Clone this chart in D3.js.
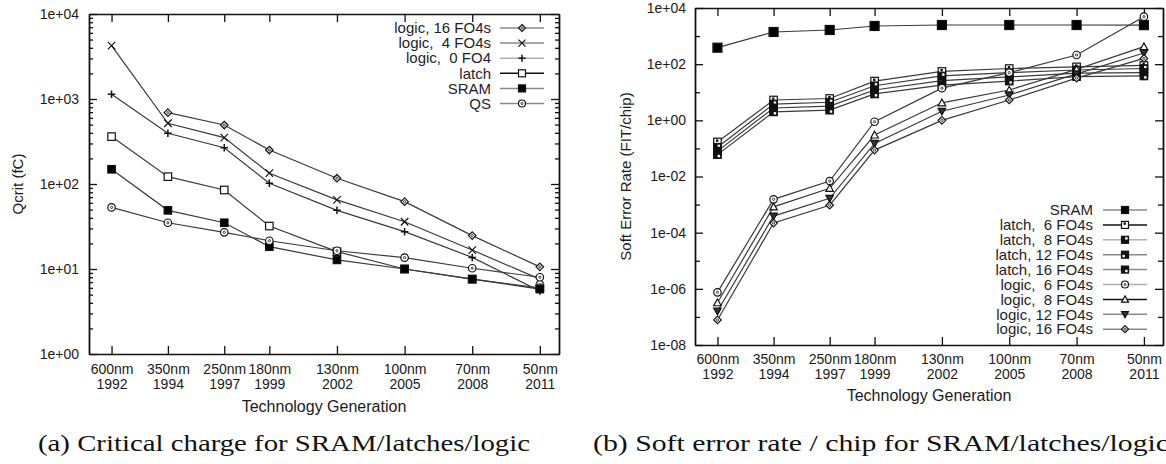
<!DOCTYPE html>
<html>
<head>
<meta charset="utf-8">
<script src="https://cdn.jsdelivr.net/npm/d3@7"></script>
<style>
  body { margin: 0; background: #fff; }
  svg { display: block; font-family: "Liberation Sans", Arial, sans-serif; }
  .axis text { font-size: 14px; fill: #1a1a1a; }
  .axis path, .axis line { stroke: #111; stroke-width: 1.3; }
  .legend text { font-size: 15px; fill: #1e1e2a; white-space: pre; }
</style>
</head>
<body>
<svg id="chart" width="1166" height="464"></svg>
<script>
// x positions of the technology generations (gnuplot puts 350nm half way)
var xYears = [1992, 1994.5, 1997, 1999, 2002, 2005, 2008, 2011];
var nodeLabels = ["600nm", "350nm", "250nm", "180nm", "130nm", "100nm", "70nm", "50nm"];
var yearLabels = ["1992", "1994", "1997", "1999", "2002", "2005", "2008", "2011"];

// (a) critical charge, fC
var qLogic16 = [null, 690, 494, 251, 117, 62, 24.7, 10.6];
var qLogic4 = [4240, 518, 351, 134, 65, 36, 16.7, 7.6];
var qLogic0 = [1135, 395, 267, 102, 49, 27.5, 13.7, 5.5];
var qLatch = [361, 122, 85, 32, 16, 10, 7.6, 6.0];
var qSram = [149, 49, 35, 18.3, 12.8, 10, 7.6, 5.8];
var qQs = [53, 35, 27, 21.5, 16.4, 13.6, 10.2, 8.0];

// (b) soft error rate, FIT/chip
var sSram = [386, 1400, 1650, 2290, 2480, 2480, 2480, 2450];
var sLatch6 = [0.17, 5.3, 6.0, 25, 55, 70, 80, 90];
var sLatch8 = [0.11, 3.8, 4.4, 17, 38, 50, 62, 70];
var sLatch12 = [0.08, 2.75, 3.2, 12, 26, 35, 48, 50];
var sLatch16 = [0.06, 2.0, 2.3, 8.7, 18, 25, 36, 38];
var sLogic6 = [7.5e-7, 0.00154, 0.0069, 0.89, 14, 50, 212, 4900];
var sLogic8 = [3.2e-7, 0.00083, 0.0038, 0.30, 4.2, 12, 65, 420];
var sLogic12 = [1.6e-7, 0.00039, 0.00167, 0.15, 2.1, 8, 45, 250];
var sLogic16 = [7.8e-8, 0.00022, 0.00095, 0.087, 1.0, 5.3, 32, 160];

var svg = d3.select("#chart");

var panels = [
  {
    left: 89, right: 559, top: 14, bottom: 354,
    yDomain: [1, 1e4], labelStep: 1, minor: true, xPad: 10,
    yTitle: "Qcrit (fC)", yTitleX: 18, xTitleY: 412,
    legend: { textRight: 491, x1: 500, x2: 544, y0: 28, step: 15.1 },
    series: [
      { name: "logic, 16 FO4s", values: qLogic16, marker: "diamond", key: "#8a8a8a" },
      { name: "logic,  4 FO4s", values: qLogic4, marker: "x", key: "#8a8a8a" },
      { name: "logic,  0 FO4", values: qLogic0, marker: "plus", key: "#b0b0b0" },
      { name: "latch", values: qLatch, marker: "square", key: "#111" },
      { name: "SRAM", values: qSram, marker: "squareFill", key: "#8a8a8a" },
      { name: "QS", values: qQs, marker: "circle", key: "#8a8a8a" }
    ]
  },
  {
    left: 695, right: 1163, top: 8, bottom: 345,
    yDomain: [1e-8, 1e4], labelStep: 2, minor: false, xPad: 9,
    yTitle: "Soft Error Rate (FIT/chip)", yTitleX: 626, xTitleY: 401,
    legend: { textRight: 1093, x1: 1103, x2: 1147, y0: 210, step: 14.9 },
    series: [
      { name: "SRAM", values: sSram, marker: "squareFill", key: "#8a8a8a", size: 9 },
      { name: "latch,  6 FO4s", values: sLatch6, marker: "latch6", key: "#111" },
      { name: "latch,  8 FO4s", values: sLatch8, marker: "latch8", key: "#b0b0b0" },
      { name: "latch, 12 FO4s", values: sLatch12, marker: "latch12", key: "#8a8a8a" },
      { name: "latch, 16 FO4s", values: sLatch16, marker: "latch16", key: "#8a8a8a" },
      { name: "logic,  6 FO4s", values: sLogic6, marker: "circle", key: "#b0b0b0" },
      { name: "logic,  8 FO4s", values: sLogic8, marker: "triangle", key: "#111" },
      { name: "logic, 12 FO4s", values: sLogic12, marker: "triangleDown", key: "#8a8a8a" },
      { name: "logic, 16 FO4s", values: sLogic16, marker: "diamond", key: "#8a8a8a" }
    ]
  }
];

function fmtExp(v) {
  var e = Math.round(Math.log10(v));
  var a = Math.abs(e);
  return "1e" + (e < 0 ? "-" : "+") + (a < 10 ? "0" : "") + a;
}

function drawMarker(g, type, x, y, s) {
  var h = s / 2;
  var m = g.append("g")
    .attr("transform", "translate(" + x + "," + y + ")")
    .attr("stroke", "#111").attr("stroke-width", 1.2);
  if (type == "diamond") {
    m.append("path").attr("d", "M0," + (-h) + "L" + h + ",0L0," + h + "L" + (-h) + ",0Z").attr("fill", "#fff");
    m.append("circle").attr("r", h * 0.3).attr("fill", "none").attr("stroke-width", 0.8);
  } else if (type == "x") {
    m.append("path").attr("d", "M" + (-h) + "," + (-h) + "L" + h + "," + h + "M" + (-h) + "," + h + "L" + h + "," + (-h));
  } else if (type == "plus") {
    m.append("path").attr("d", "M" + (-h) + ",0L" + h + ",0M0," + (-h) + "L0," + h).attr("stroke-width", 1.5);
  } else if (type == "square") {
    m.append("rect").attr("x", -h).attr("y", -h).attr("width", s).attr("height", s).attr("fill", "#fff");
  } else if (type == "squareFill") {
    m.append("rect").attr("x", -h).attr("y", -h).attr("width", s).attr("height", s).attr("fill", "#000");
  } else if (type == "circle") {
    m.append("circle").attr("r", h).attr("fill", "#fff");
    m.append("circle").attr("r", h * 0.3).attr("fill", "none").attr("stroke-width", 0.8);
  } else if (type == "triangle") {
    m.append("path").attr("d", "M0," + (-h) + "L" + h + "," + (h * 0.8) + "L" + (-h) + "," + (h * 0.8) + "Z").attr("fill", "#fff");
  } else if (type == "triangleDown") {
    m.append("path").attr("d", "M0," + h + "L" + h + "," + (-h * 0.8) + "L" + (-h) + "," + (-h * 0.8) + "Z").attr("fill", "#333");
  } else {
    // gnuplot partially filled boxes for the latches
    var filled = type != "latch6";
    m.append("rect").attr("x", -h).attr("y", -h).attr("width", s).attr("height", s)
      .attr("fill", filled ? "#111" : "#fff");
    var q = { latch6: [-1.5, -2.5], latch8: [0.2, -2.6], latch12: [-2.6, 0.2], latch16: [0.2, 0.2] }[type];
    m.append("rect").attr("x", q[0]).attr("y", q[1]).attr("width", 2.4).attr("height", 2.4)
      .attr("stroke", "none").attr("fill", filled ? "#fff" : "#111");
  }
}

panels.forEach(function (p) {
  var x = d3.scaleLinear().domain([1991, 2011.85]).range([p.left, p.right]);
  var y = d3.scaleLog().domain(p.yDomain).range([p.bottom, p.top]);
  var g = svg.append("g");

  var lo = Math.round(Math.log10(p.yDomain[0]));
  var hi = Math.round(Math.log10(p.yDomain[1]));
  var decades = d3.range(lo, hi + 1);
  var labelled = decades.filter(function (e) { return (e - lo) % p.labelStep == 0; }).map(function (e) { return Math.pow(10, e); });
  var plain = decades.filter(function (e) { return (e - lo) % p.labelStep != 0; }).map(function (e) { return Math.pow(10, e); });
  var minors = [];
  if (p.minor) {
    decades.slice(0, -1).forEach(function (e) {
      d3.range(2, 10).forEach(function (k) { minors.push(k * Math.pow(10, e)); });
    });
  }

  // y axes, ticks pointing inward on both sides
  g.append("g").attr("class", "axis").attr("transform", "translate(" + p.left + ",0)")
    .call(d3.axisLeft(y).tickValues(labelled).tickSize(-8).tickSizeOuter(0).tickPadding(p.xPad).tickFormat(fmtExp));
  [[d3.axisLeft, p.left], [d3.axisRight, p.right]].forEach(function (a, i) {
    g.append("g").attr("class", "axis").attr("transform", "translate(" + a[1] + ",0)")
      .call(a[0](y).tickValues(plain).tickSize(-5).tickSizeOuter(0).tickFormat(""));
    g.append("g").attr("class", "axis").attr("transform", "translate(" + a[1] + ",0)")
      .call(a[0](y).tickValues(minors).tickSize(-4).tickSizeOuter(0).tickFormat(""));
    if (i == 1) {
      g.append("g").attr("class", "axis").attr("transform", "translate(" + a[1] + ",0)")
        .call(a[0](y).tickValues(labelled).tickSize(-8).tickSizeOuter(0).tickFormat(""));
    }
  });

  // x axes
  var bottom = g.append("g").attr("class", "axis").attr("transform", "translate(0," + p.bottom + ")")
    .call(d3.axisBottom(x).tickValues(xYears).tickSize(-8).tickSizeOuter(0).tickPadding(p.xPad));
  bottom.selectAll(".tick text").each(function (d, i) {
    var t = d3.select(this).text(null);
    t.append("tspan").attr("x", 0).text(nodeLabels[i]);
    t.append("tspan").attr("x", 0).attr("dy", "1.1em").text(yearLabels[i]);
  });
  g.append("g").attr("class", "axis").attr("transform", "translate(0," + p.top + ")")
    .call(d3.axisTop(x).tickValues(xYears).tickSize(-8).tickSizeOuter(0).tickFormat(""));

  // titles
  g.append("text").attr("x", (p.left + p.right) / 2).attr("y", p.xTitleY)
    .attr("text-anchor", "middle").attr("font-size", 16).attr("fill", "#1a1a1a")
    .text("Technology Generation");
  g.append("text").attr("transform", "translate(" + p.yTitleX + "," + ((p.top + p.bottom) / 2) + ") rotate(-90)")
    .attr("dy", "0.35em").attr("text-anchor", "middle").attr("font-size", 15).attr("fill", "#1a1a1a")
    .text(p.yTitle);

  // series
  var line = d3.line()
    .defined(function (d) { return d != null; })
    .x(function (d, i) { return x(xYears[i]); })
    .y(function (d) { return y(d); });

  p.series.forEach(function (s) {
    g.append("path").datum(s.values)
      .attr("d", line).attr("fill", "none").attr("stroke", "#3a3a3a").attr("stroke-width", 1.2);
  });
  p.series.forEach(function (s) {
    s.values.forEach(function (v, i) {
      if (v != null) drawMarker(g, s.marker, x(xYears[i]), y(v), s.size || 7.5);
    });
  });

  // legend
  var lg = g.append("g").attr("class", "legend");
  p.series.forEach(function (s, i) {
    var ly = p.legend.y0 + i * p.legend.step;
    lg.append("text").attr("x", p.legend.textRight).attr("y", ly).attr("dy", "0.35em")
      .attr("text-anchor", "end").text(s.name);
    lg.append("line").attr("x1", p.legend.x1).attr("x2", p.legend.x2).attr("y1", ly).attr("y2", ly)
      .attr("stroke", s.key).attr("stroke-width", 1.5);
    drawMarker(lg, s.marker, (p.legend.x1 + p.legend.x2) / 2, ly, 7);
  });
});

// captions below the two panels
var captions = [
  { text: "(a) Critical charge for SRAM/latches/logic", x: 38, width: 492 },
  { text: "(b) Soft error rate / chip for SRAM/latches/logic", x: 593, width: 576 }
];
svg.selectAll(".caption").data(captions).enter().append("text")
  .attr("class", "caption")
  .attr("x", function (d) { return d.x; })
  .attr("y", 451)
  .attr("textLength", function (d) { return d.width; })
  .attr("lengthAdjust", "spacingAndGlyphs")
  .attr("font-family", "'Liberation Serif', 'DejaVu Serif', serif")
  .attr("font-size", 23)
  .attr("fill", "#111")
  .text(function (d) { return d.text; });
</script>
</body>
</html>
